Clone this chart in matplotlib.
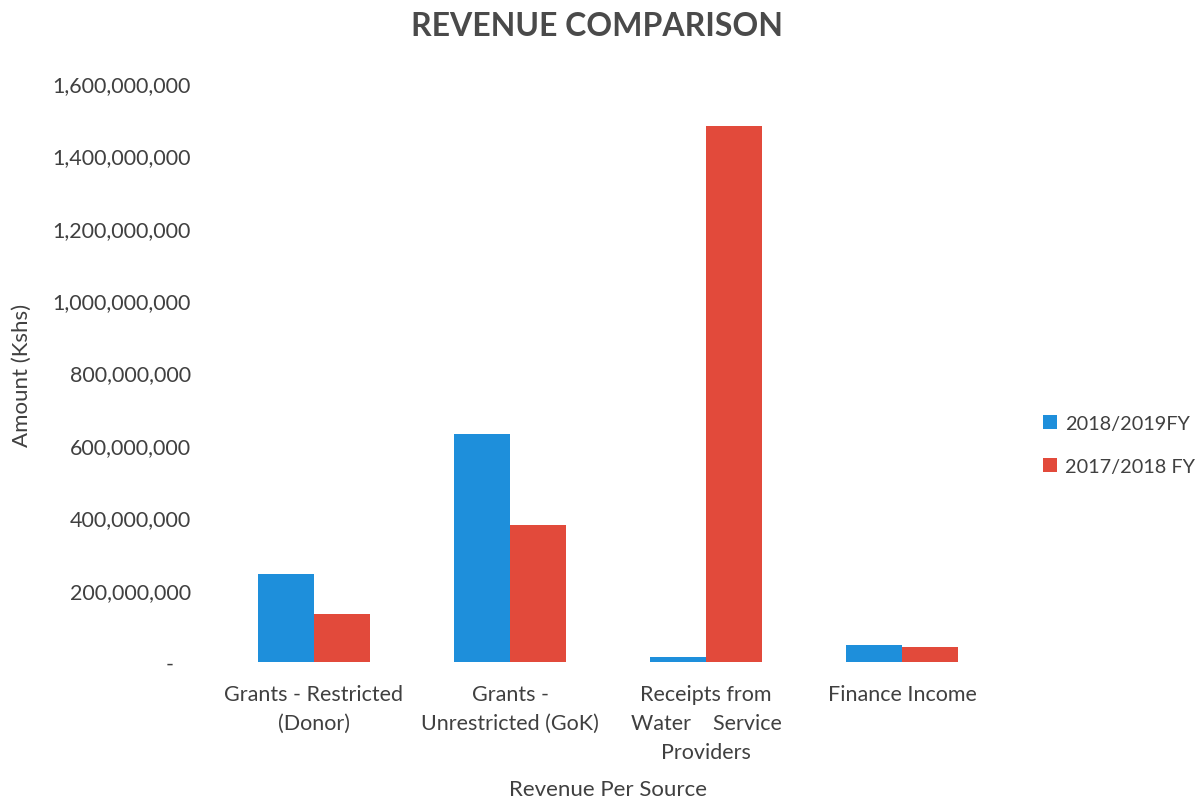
import numpy as np
import matplotlib
matplotlib.use('Agg')
import matplotlib.pyplot as plt
from matplotlib.ticker import FuncFormatter

plt.rcParams['font.family'] = ['Lato', 'DejaVu Sans']

# Revenue per source (Kshs)
categories = ['Grants - Restricted\n(Donor)', 'Grants -\nUnrestricted (GoK)',
              'Receipts from\nWater    Service\nProviders', 'Finance Income']
fy_2018_2019 = [243e6, 630e6, 14e6, 48e6]
fy_2017_2018 = [133e6, 378e6, 1481e6, 42e6]
series_labels = ['2018/2019FY', '2017/2018 FY']

blue = '#1E8FDB'
red = '#E24A3B'
text_col = '#404040'

fig = plt.figure(figsize=(12.01, 8.03), dpi=100)
ax = fig.add_axes([216 / 1201, 1 - 663 / 803, (1000 - 216) / 1201, (663 - 84) / 803])

x = np.arange(len(categories))
w = 0.286
ax.bar(x - w / 2, fy_2018_2019, w, color=blue, label=series_labels[0])
ax.bar(x + w / 2, fy_2017_2018, w, color=red, label=series_labels[1])

ax.set_xlim(-0.5, len(categories) - 0.5)
ax.set_ylim(0, 1.6e9)
ax.set_yticks(np.arange(0, 1.6e9 + 1, 2e8))
# accounting style: zero shown as a dash, set in from the right edge
ax.yaxis.set_major_formatter(FuncFormatter(lambda v, p: '-   ' if v == 0 else f'{v:,.0f}'))
ax.set_xticks(x)
ax.set_xticklabels(categories, fontsize=15.5, color=text_col, linespacing=1.55)
ax.tick_params(axis='y', labelsize=15.5, labelcolor=text_col, length=0, pad=18)
ax.tick_params(axis='x', length=0, pad=16)
for s in ax.spines.values():
    s.set_visible(False)

ax.set_ylabel('Amount (Kshs)', fontsize=16, color=text_col)
ax.yaxis.set_label_coords(-0.235, 0.497)
fig.text(608 / 1201, 1 - 790 / 803, 'Revenue Per Source', fontsize=16, color=text_col,
         ha='center', va='center')
fig.text(597 / 1201, 1 - 27 / 803, 'REVENUE COMPARISON', fontsize=23, fontweight='bold',
         color='#4a4a4a', ha='center', va='center')

leg = ax.legend(loc='center left', bbox_to_anchor=(1.032, 0.375), frameon=False, fontsize=14.3,
                handlelength=0.7, handleheight=0.7, handletextpad=0.4, labelspacing=1.3)
for t in leg.get_texts():
    t.set_color(text_col)

fig.savefig('out.png', dpi=100)
